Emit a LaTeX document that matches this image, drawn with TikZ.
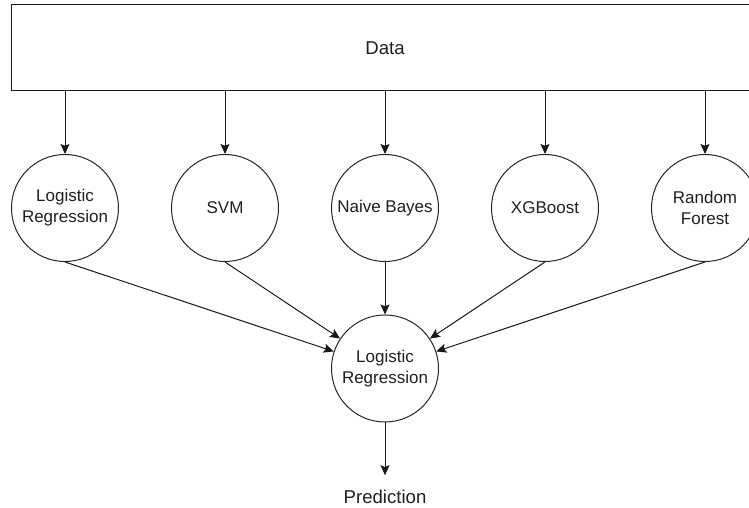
\documentclass[tikz,border=0pt]{standalone}
\usepackage{fontspec}
\setmainfont{Liberation Sans}
\usetikzlibrary{arrows.meta}
\begin{document}
\begin{tikzpicture}[x=1pt,y=1pt,
  circ/.style={circle, draw=black!85, line width=1pt, minimum size=107pt, inner sep=0pt,
    align=center, font=\fontsize{17}{21}\selectfont, text=black!88},
  arr/.style={-{Stealth[length=10pt,width=9pt,inset=1.8pt]}, draw=black!90, line width=1pt}]
\useasboundingbox (0,0) rectangle (749,508);
\clip (0,0) rectangle (749,508);
\node[draw=black!90, line width=1pt, minimum width=747pt, minimum height=86pt, inner sep=0pt,
  font=\fontsize{18.6}{22}\selectfont, text=black!88] (data) at (385,460) {Data};
\node[circ] (lr) at (65,300) {Logistic\\Regression};
\node[circ] (svm) at (225,300) {SVM};
\node[circ] (nb) at (385,300) {Naive Bayes};
\node[circ] (xgb) at (545,300) {XGBoost};
\node[circ] (rf) at (705,300) {Random\\Forest};
\node[circ] (out) at (385,139.5) {Logistic\\Regression};
\node[inner sep=0pt, outer ysep=14.6pt, anchor=base, font=\fontsize{18.6}{22}\selectfont, text=black!88] (pred) at (385,4.7) {Prediction};
\foreach \n in {lr,svm,nb,xgb,rf}{
  \draw[arr] (data.south -| \n) -- (\n);
  \draw[arr] (\n.south) -- (out);
}
\draw[arr] (out) -- (pred);
\end{tikzpicture}
\end{document}
